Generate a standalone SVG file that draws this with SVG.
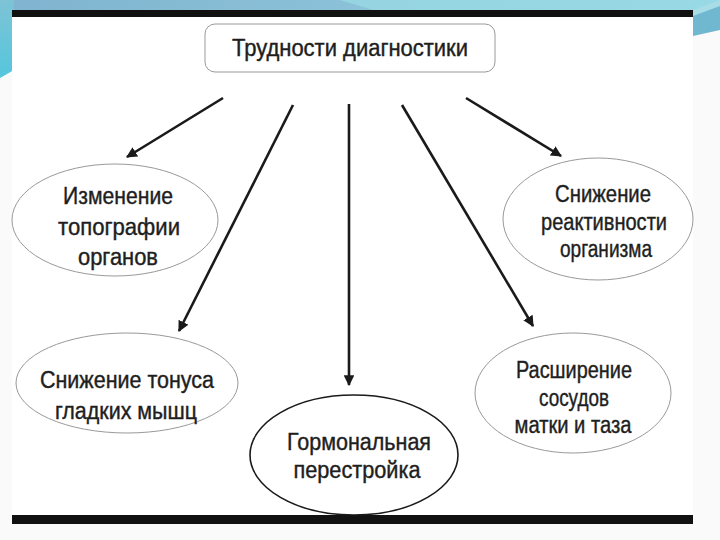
<svg xmlns="http://www.w3.org/2000/svg" width="720" height="540" viewBox="0 0 720 540">
<defs>
<linearGradient id="band" x1="0" y1="0" x2="1" y2="0">
<stop offset="0" stop-color="#7fb3cf"/>
<stop offset="0.5" stop-color="#8cc2d8"/>
<stop offset="1" stop-color="#92d3e2"/>
</linearGradient>
<linearGradient id="side" x1="0" y1="0" x2="0" y2="1">
<stop offset="0" stop-color="#7ec3d6"/>
<stop offset="1" stop-color="#55c6dc"/>
</linearGradient>
<marker id="ah" viewBox="0 0 10 10" refX="9" refY="5" markerWidth="4.2" markerHeight="4.2" orient="auto" markerUnits="strokeWidth">
<path d="M0,0 L10,5 L0,10 z" fill="#1a1a1a"/>
</marker>
<style>
.t{font-family:"Liberation Sans",Arial,sans-serif;font-size:23px;fill:#1e1e1e;stroke:#1e1e1e;stroke-width:0.4;text-anchor:middle}
.e{fill:#fff;stroke:#999;stroke-width:1}
.c{stroke:#1a1a1a;stroke-width:2.6;fill:none;marker-end:url(#ah)}
</style>
</defs>
<rect x="0" y="0" width="720" height="540" fill="#fafafa"/>
<rect x="0" y="0" width="720" height="12" fill="url(#band)"/>
<polygon points="340,0 720,0 720,12 380,12" fill="#9adbe6" opacity="0.7"/>
<polygon points="0,0 14,0 14,70 0,78" fill="url(#side)"/>
<polygon points="693,14 720,4 720,30 693,36" fill="#6fb8d0"/>
<polygon points="693,10 720,0 720,6 693,16" fill="#a8dde8"/>
<rect x="12" y="12" width="681" height="510" fill="#ffffff"/>
<rect x="12" y="10" width="681" height="7" fill="#111"/>
<rect x="12" y="515" width="681" height="9" fill="#111"/>

<g id="connectors">
<line class="c" x1="223" y1="98" x2="127" y2="157"/>
<line class="c" x1="293" y1="105" x2="179" y2="331"/>
<line class="c" x1="349" y1="104" x2="349" y2="385"/>
<line class="c" x1="402" y1="105" x2="533" y2="326"/>
<line class="c" x1="466" y1="98" x2="561" y2="156"/>
</g>

<g id="root">
<rect x="205" y="24" width="290" height="48" rx="10" fill="#fff" stroke="#999" stroke-width="1"/>
<text class="t" x="350" y="56" textLength="236" lengthAdjust="spacingAndGlyphs">Трудности диагностики</text>
</g>

<g id="topografia">
<ellipse class="e" cx="115" cy="220" rx="103" ry="56"/>
<text class="t" x="118" y="204" textLength="110" lengthAdjust="spacingAndGlyphs">Изменение</text>
<text class="t" x="119" y="235" textLength="122" lengthAdjust="spacingAndGlyphs">топографии</text>
<text class="t" x="118" y="265" textLength="80" lengthAdjust="spacingAndGlyphs">органов</text>
</g>

<g id="reaktivnost">
<ellipse class="e" cx="598" cy="219" rx="95" ry="61"/>
<text class="t" x="603" y="202" textLength="96" lengthAdjust="spacingAndGlyphs">Снижение</text>
<text class="t" x="604" y="230" textLength="126" lengthAdjust="spacingAndGlyphs">реактивности</text>
<text class="t" x="606" y="257" textLength="92" lengthAdjust="spacingAndGlyphs">организма</text>
</g>

<g id="tonus">
<ellipse class="e" cx="127" cy="383" rx="111" ry="50"/>
<text class="t" x="127" y="388" textLength="174" lengthAdjust="spacingAndGlyphs">Снижение тонуса</text>
<text class="t" x="126" y="419" textLength="142" lengthAdjust="spacingAndGlyphs">гладких мышц</text>
</g>

<g id="sosudy">
<ellipse class="e" cx="573" cy="393" rx="98" ry="60"/>
<text class="t" x="574" y="378" textLength="116" lengthAdjust="spacingAndGlyphs">Расширение</text>
<text class="t" x="574" y="406" textLength="70" lengthAdjust="spacingAndGlyphs">сосудов</text>
<text class="t" x="573" y="433" textLength="117" lengthAdjust="spacingAndGlyphs">матки и таза</text>
</g>

<g id="gormon">
<ellipse cx="354" cy="455" rx="104" ry="60" fill="#fff" stroke="#1a1a1a" stroke-width="1.6"/>
<text class="t" x="359" y="450" textLength="144" lengthAdjust="spacingAndGlyphs">Гормональная</text>
<text class="t" x="357" y="478" textLength="127" lengthAdjust="spacingAndGlyphs">перестройка</text>
</g>
</svg>
